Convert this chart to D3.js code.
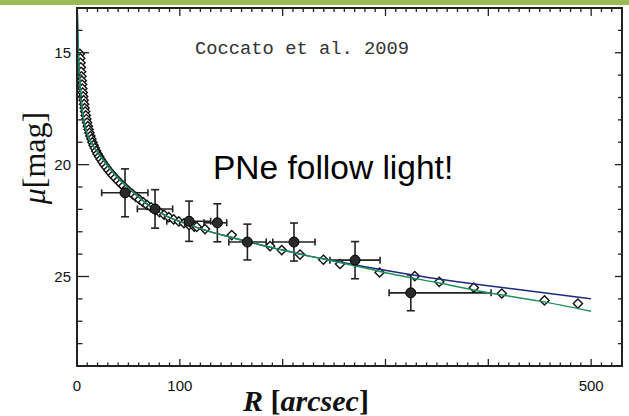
<!DOCTYPE html>
<html><head><meta charset="utf-8">
<script src="https://cdn.jsdelivr.net/npm/d3@7"></script>
<style>html,body{margin:0;padding:0;background:#fff;}svg{display:block;}</style>
</head><body>
<script>
// ---- data ----
const diamondR   = [2.8,3.1,3.4,3.7,4.0,4.3,4.6,4.9,5.2,5.6,6.0,6.4,6.9,7.4,7.9,8.5,9.1,9.8,10.5,11.3,12.1,13.0,14.0,15.0,16.1,17.3,18.6,20.0,21.5,23.0,24.7,26.5,28.4,30.4,32.5,34.8,37.2,39.7,42.3,45,47.8,50.8,54,57.3,60.7,64.3,68,72,76,80.3,84.7,89.3,94,99,104,109,114,
                    116.4,124.5,150.5,187.7,199.1,216.9,239.6,255.8,294.3,328.5,352.3,385.9,413.1,454.6,487.1];
const diamondMag = [15.05,15.25,15.45,15.65,15.85,16.05,16.25,16.42,16.6,16.78,16.95,17.12,17.3,17.47,17.63,17.8,17.96,18.12,18.28,18.43,18.58,18.72,18.86,19.0,19.13,19.26,19.39,19.52,19.64,19.76,19.88,20.0,20.12,20.24,20.36,20.48,20.6,20.72,20.84,20.96,21.08,21.2,21.32,21.44,21.56,21.68,21.8,21.91,22.02,22.13,22.24,22.35,22.45,22.54,22.62,22.7,22.77,
                    22.78,22.88,23.15,23.64,23.82,24.02,24.25,24.44,24.82,24.98,25.24,25.50,25.76,26.07,26.21];

const pneR    = [46.7, 75.9, 109, 136.5, 165.7, 211, 270.4, 324.6];
const pneMag  = [21.26, 21.98, 22.53, 22.6, 23.46, 23.46, 24.27, 25.73];
const pneRlo  = [24, 58.7, 87.3, 123.5, 147.6, 190.4, 246, 303.5];
const pneRhi  = [69, 93, 130, 145.6, 184, 231.5, 294.7, 402.7];
const pneErr  = [1.07, 0.86, 0.9, 0.85, 0.8, 0.85, 0.83, 0.8];

const greenR   = [0.2,1,2.2,4.5,9,15,25,38,55,71,87,107,126,150,175,200,227,250,280,315,350,392,450,500];
const greenMag = [13.0,14.6,15.9,17.3,18.5,19.1,19.75,20.5,21.25,21.85,22.3,22.65,22.95,23.25,23.55,23.82,24.1,24.32,24.62,24.97,25.27,25.66,26.1,26.55];
const blueR    = [0.2,1,2.2,4.5,9,15,25,38,55,71,87,107,126,150,175,200,227,250,280,315,350,392,450,500];
const blueMag  = [13.0,14.6,15.9,17.3,18.5,19.1,19.75,20.5,21.25,21.85,22.3,22.65,22.95,23.25,23.55,23.82,24.1,24.3,24.56,24.84,25.1,25.37,25.7,26.0];

const xLabelTicks = [0, 100, 500];
const yLabelTicks = [15, 20, 25];
const citation = "Coccato et al. 2009";
const headline = "PNe follow light!";

// ---- layout ----
const W = 629, H = 416;
const m = {left: 77, top: 8, right: 7, bottom: 50};
const svg = d3.select("body").append("svg").attr("width", W).attr("height", H);

svg.append("rect").attr("x",0).attr("y",0).attr("width",W).attr("height",5).attr("fill","#9bbb59");

const x = d3.scaleLinear().domain([0,530]).range([m.left, W-m.right]);
const y = d3.scaleLinear().domain([13,29]).range([m.top, H-m.bottom]);

svg.append("clipPath").attr("id","clip").append("rect")
  .attr("x", m.left).attr("y", m.top).attr("width", W-m.left-m.right).attr("height", H-m.top-m.bottom);

const plot = svg.append("g").attr("clip-path","url(#clip)");

// error bars
const pne = pneR.map((r,i)=>({r, mag:pneMag[i], lo:pneRlo[i], hi:pneRhi[i], e:pneErr[i]}));
const eb = plot.append("g").attr("stroke","#222").attr("stroke-width",1.6).attr("fill","none");
pne.forEach(d=>{
  eb.append("line").attr("x1",x(d.lo)).attr("x2",x(d.hi)).attr("y1",y(d.mag)).attr("y2",y(d.mag));
  eb.append("line").attr("x1",x(d.lo)).attr("x2",x(d.lo)).attr("y1",y(d.mag)-3.5).attr("y2",y(d.mag)+3.5);
  eb.append("line").attr("x1",x(d.hi)).attr("x2",x(d.hi)).attr("y1",y(d.mag)-3.5).attr("y2",y(d.mag)+3.5);
  eb.append("line").attr("x1",x(d.r)).attr("x2",x(d.r)).attr("y1",y(d.mag-d.e)).attr("y2",y(d.mag+d.e));
  eb.append("line").attr("x1",x(d.r)-4).attr("x2",x(d.r)+4).attr("y1",y(d.mag-d.e)).attr("y2",y(d.mag-d.e));
  eb.append("line").attr("x1",x(d.r)-4).attr("x2",x(d.r)+4).attr("y1",y(d.mag+d.e)).attr("y2",y(d.mag+d.e));
});

// diamonds
const dm = diamondR.map((r,i)=>({r, mag:diamondMag[i]}));
const s = 4.6;
plot.append("g").selectAll("path").data(dm).join("path")
  .attr("d", d=>`M${x(d.r)},${y(d.mag)-s}L${x(d.r)+s},${y(d.mag)}L${x(d.r)},${y(d.mag)+s}L${x(d.r)-s},${y(d.mag)}Z`)
  .attr("fill","#fff").attr("stroke","#111").attr("stroke-width",1.4);

// lines
const line = d3.line().x(d=>x(d[0])).y(d=>y(d[1])).curve(d3.curveMonotoneX);
plot.append("path").datum(blueR.map((r,i)=>[r,blueMag[i]])).attr("d",line)
  .attr("fill","none").attr("stroke","#1c2a80").attr("stroke-width",1.5);
plot.append("path").datum(greenR.map((r,i)=>[r,greenMag[i]])).attr("d",line)
  .attr("fill","none").attr("stroke","#1f8f5a").attr("stroke-width",1.5);

// PNe circles
plot.append("g").selectAll("circle").data(pne).join("circle")
  .attr("cx",d=>x(d.r)).attr("cy",d=>y(d.mag)).attr("r",5)
  .attr("fill","#2a2a2a").attr("stroke","#000").attr("stroke-width",1);

// frame + ticks
const ax = svg.append("g").attr("stroke","#222");
ax.append("rect").attr("x",m.left).attr("y",m.top).attr("width",W-m.left-m.right).attr("height",H-m.top-m.bottom)
  .attr("fill","none").attr("stroke-width",2);
const xt = d3.range(0,531,10);
xt.forEach(v=>{
  const maj = v%100===0;
  ax.append("line").attr("x1",x(v)).attr("x2",x(v)).attr("y1",y(29)).attr("y2",y(29)-(maj?7:3.5)).attr("stroke-width",1.3);
  ax.append("line").attr("x1",x(v)).attr("x2",x(v)).attr("y1",y(13)).attr("y2",y(13)+(maj?8:4)).attr("stroke-width",1.3);
});
const yt = d3.range(13,30,1);
yt.forEach(v=>{
  const maj = v%5===0;
  ax.append("line").attr("x1",x(0)).attr("x2",x(0)+(maj?12:5.5)).attr("y1",y(v)).attr("y2",y(v)).attr("stroke-width",1.3);
  ax.append("line").attr("x1",x(530)).attr("x2",x(530)-(maj?7:4)).attr("y1",y(v)).attr("y2",y(v)).attr("stroke-width",1.3);
});

// tick labels
svg.append("g").selectAll("text").data(yLabelTicks).join("text")
  .attr("x", m.left-6).attr("y", d=>y(d)+5.5).attr("text-anchor","end")
  .attr("font-family","Liberation Sans, Arial, sans-serif").attr("font-size",15).attr("fill","#111")
  .text(d=>d);
svg.append("g").selectAll("text").data(xLabelTicks).join("text")
  .attr("x", d=>x(d)).attr("y", 391).attr("text-anchor","middle")
  .attr("font-family","Liberation Sans, Arial, sans-serif").attr("font-size",15).attr("fill","#111")
  .text(d=>d);

// axis titles
const xtitle = svg.append("text").attr("x", 306).attr("y", 411).attr("text-anchor","middle")
  .attr("font-family","Liberation Serif, Times New Roman, serif").attr("font-size",30).attr("font-weight","bold").attr("fill","#111");
xtitle.append("tspan").attr("font-style","italic").text("R ");
xtitle.append("tspan").text("[");
xtitle.append("tspan").attr("font-style","italic").text("arcsec");
xtitle.append("tspan").text("]");

const ytitle = svg.append("text").attr("transform","translate(45,158) rotate(-90)").attr("text-anchor","middle")
  .attr("font-family","Liberation Serif, Times New Roman, serif").attr("font-size",32).attr("fill","#111");
ytitle.append("tspan").attr("font-style","italic").text("μ");
ytitle.append("tspan").text("[mag]");

// annotations
svg.append("text").attr("x",195).attr("y",54).attr("font-family","Liberation Mono, Courier New, monospace")
  .attr("font-size",18.8).attr("fill","#333").text(citation);
svg.append("text").attr("x",213).attr("y",179).attr("font-family","Liberation Sans, Arial, sans-serif")
  .attr("font-size",33.5).attr("fill","#000").text(headline);
</script>
</body></html>
